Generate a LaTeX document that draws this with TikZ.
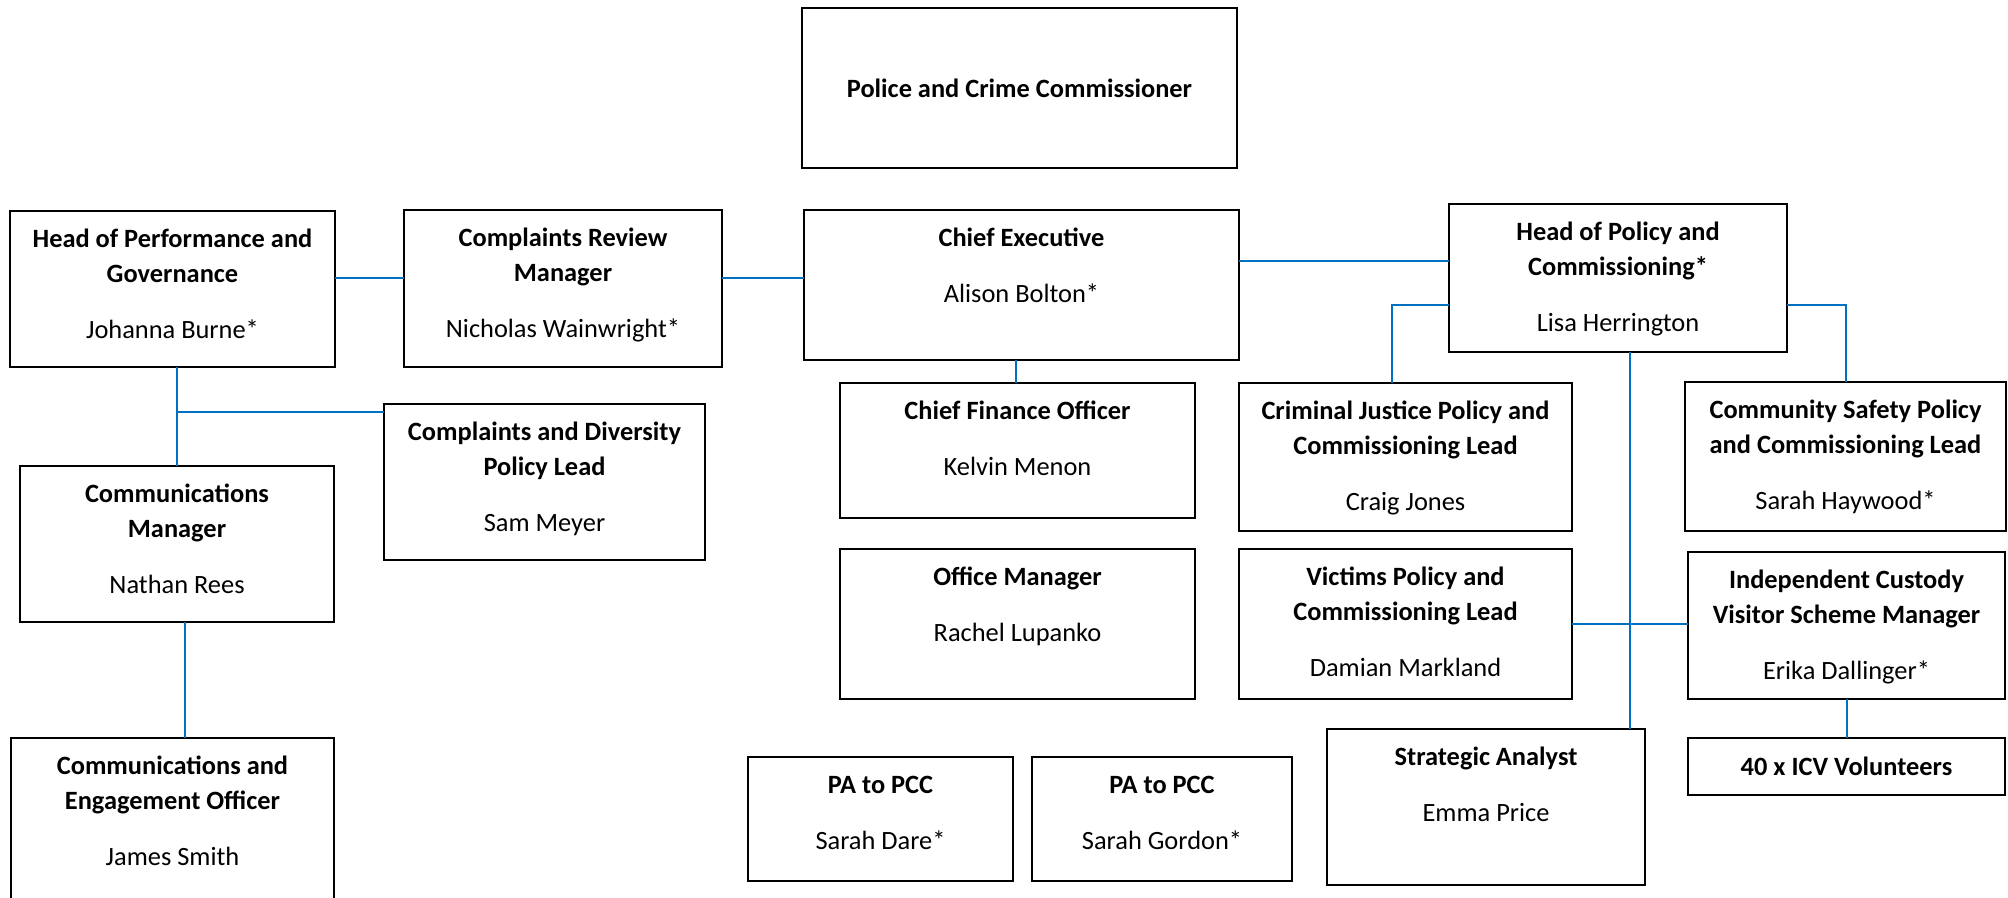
\documentclass[tikz,border=0pt]{standalone}
\usepackage{fontspec}
\setmainfont{Carlito}
\definecolor{linkblue}{RGB}{0,112,192}

\begin{document}
\begin{tikzpicture}[x=0.5pt,y=-0.5pt,
    orgbox/.style={draw=black, line width=1pt, inner sep=0pt, outer sep=0pt},
    rolefont/.style={font=\fontsize{13.2}{17.5}\selectfont\bfseries},
    roletext/.style={rolefont, anchor=north, align=center, inner sep=0pt},
    link/.style={draw=linkblue, line width=1pt}]
        \useasboundingbox (0,0) rectangle (2008,898);

        % boxes given by their corners in pixels: name/left/top/right/bottom/title/person
        \foreach \nm/\xa/\ya/\xb/\yb/\ttl/\who in
        {hpg/10/211/335/367/{Head of Performance and\\Governance}/{Johanna Burne*},
            crm/404/210/722/367/{Complaints Review\\Manager}/{Nicholas Wainwright*},
            ce/804/210/1239/360/{Chief Executive}/{Alison Bolton*},
            hpc/1449/204/1787/352/{Head of Policy and\\Commissioning*}/{Lisa Herrington},
            cdpl/384/404/705/560/{Complaints and Diversity\\Policy Lead}/{Sam Meyer},
            cm/20/466/334/622/{Communications\\Manager}/{Nathan Rees},
            ceo/11/738/334/905/{Communications and\\Engagement Officer}/{James Smith},
            cfo/840/383/1195/518/{Chief Finance Officer}/{Kelvin Menon},
            om/840/549/1195/699/{Office Manager}/{Rachel Lupanko},
            cj/1239/383/1572/531/{Criminal Justice Policy and\\Commissioning Lead}/{Craig Jones},
            cs/1685/382/2006/531/{Community Safety Policy\\and Commissioning Lead}/{Sarah Haywood*},
            vic/1239/549/1572/699/{Victims Policy and\\Commissioning Lead}/{Damian Markland},
            icv/1688/552/2005/699/{Independent Custody\\Visitor Scheme Manager}/{Erika Dallinger*},
            sa/1327/729/1645/885/{Strategic Analyst}/{Emma Price},
            pa1/748/757/1013/881/{PA to PCC}/{Sarah Dare*},
            pa2/1032/757/1292/881/{PA to PCC}/{Sarah Gordon*}
        }
        {
            \pgfmathsetmacro{\bw}{(\xb-\xa)/2}
            \pgfmathsetmacro{\bh}{(\yb-\ya)/2}
            \node[orgbox, minimum width=\bw pt, minimum height=\bh pt] (\nm) at ({(\xa+\xb)/2},{(\ya+\yb)/2}) {};
            \node[roletext] (\nm-text) at ([yshift=-5.9pt]\nm.north) {\strut\ttl\\[10.5pt]\mdseries\who};
        };

        \node[orgbox, rolefont, minimum width=217.5pt, minimum height=80pt] (pcc) at (1019.5,88) {Police and Crime Commissioner};
        \node[orgbox, rolefont, minimum width=158.5pt, minimum height=28.5pt] (vol) at (1846.5,766.5) {40 x ICV Volunteers};

        % reporting lines
        \draw[link] ([yshift=5.4pt]hpg.east) -- ([yshift=5.4pt]hpg.east -| crm.west);
        \draw[link] ([yshift=5.4pt]crm.east) -- ([yshift=5.4pt]crm.east -| ce.west);
        \draw[link] ([yshift=12pt]ce.east) -- ([yshift=12pt]ce.east -| hpc.west);
        \draw[link] ([xshift=-1pt]cfo.north) -- ([xshift=-1pt]cfo.north |- ce.south);
        \draw[link] ([yshift=-13.5pt]hpc.west) -| ([xshift=-7pt]cj.north);
        \draw[link] ([yshift=-13.5pt]hpc.east) -| (cs.north);
        \draw[link] ([xshift=6pt]hpc.south) -- ([xshift=6pt]hpc.south |- sa.north);
        \draw[link] (vic.east) -- (vic.east -| icv.west);
        \draw[link] (icv.south) -- (vol.north);
        \draw[link] (cm.north) -- (cm.north |- hpg.south);
        \draw[link] ([yshift=-4pt]cdpl.north west) -- ([yshift=-4pt]cdpl.north west -| cm.north);
        \draw[link] ([xshift=4pt]cm.south) -- ([xshift=4pt]cm.south |- ceo.north);
\end{tikzpicture}
\end{document}
